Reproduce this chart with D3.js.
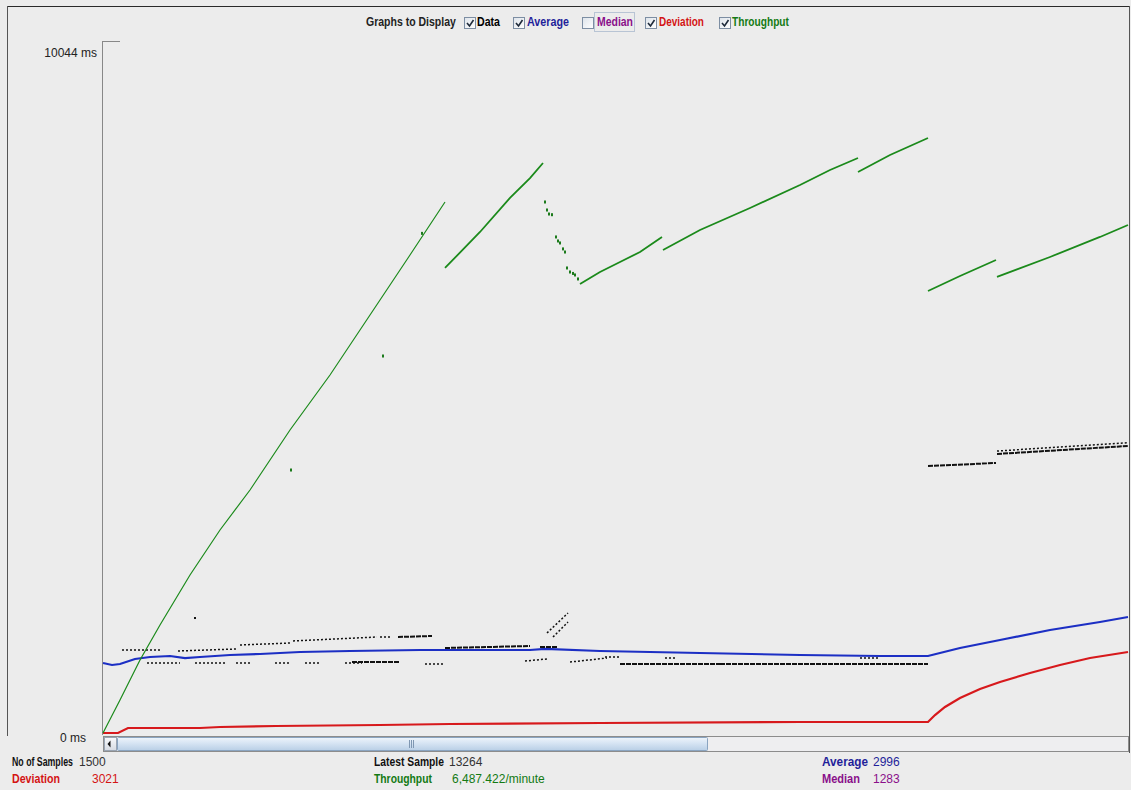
<!DOCTYPE html>
<html>
<head>
<meta charset="utf-8">
<script src="https://d3js.org/d3.v7.min.js"></script>
<style>
  html, body { margin: 0; padding: 0; background: #ececec; }
  svg { display: block; }
  text { font-family: "Liberation Sans", Arial, sans-serif; }
</style>
</head>
<body>
<svg id="chart" width="1131" height="790"></svg>
<script>
// ---- data (sample index, value in ms) ----
const yMax = 10044;
const sampleCount = 1025;

// Running average
const averagePoints = [
  [0, 1042], [9, 1013], [17, 1028], [32, 1100], [47, 1129], [67, 1143], [82, 1114],
  [97, 1129], [127, 1158], [157, 1172], [197, 1201], [247, 1216], [317, 1230],
  [427, 1230], [442, 1245], [497, 1216], [547, 1201], [597, 1187], [697, 1158],
  [777, 1143], [825, 1143], [857, 1259], [897, 1375], [947, 1520], [997, 1635], [1025, 1708]
];

// Standard deviation
const deviationPoints = [
  [0, 29], [15, 29], [25, 101], [97, 101], [117, 116], [173, 130], [277, 145],
  [347, 159], [497, 174], [697, 188], [825, 188], [832, 289], [842, 405], [857, 535],
  [877, 666], [897, 767], [927, 897], [957, 1013], [987, 1114], [1025, 1201]
];

// Throughput, drawn as separate runs
const throughputRuns = [
  [[0, 29], [17, 507], [37, 1085], [57, 1592], [87, 2316], [117, 2967], [147, 3546],
   [187, 4414], [227, 5210], [267, 6079], [307, 6947], [342, 7714]],
  [[342, 6759], [377, 7280], [407, 7772], [427, 8061], [440, 8278]],
  [[477, 6527], [497, 6701], [517, 6846], [537, 6990], [559, 7208]],
  [[560, 7019], [597, 7309], [647, 7627], [697, 7960], [727, 8177], [755, 8351]],
  [[755, 8148], [787, 8394], [825, 8640]],
  [[825, 6426], [857, 6643], [893, 6875]],
  [[894, 6629], [947, 6918], [997, 7208], [1025, 7381]]
];

// Isolated throughput samples
const throughputScatter = [
  [442, 7714], [444, 7598], [446, 7540], [449, 7530], [453, 7208], [455, 7150],
  [457, 7121], [460, 7035], [462, 6990], [464, 6759], [467, 6701], [470, 6680],
  [472, 6658], [475, 6600], [188, 3835], [280, 5485], [319, 7260]
];

// Individual response times, grouped into runs [from, to, valueFrom, valueTo]
const dataDense = [
  [295, 329, 1418, 1433], [249, 297, 1056, 1056], [342, 427, 1259, 1288],
  [437, 454, 1274, 1274], [517, 617, 1028, 1028], [617, 825, 1028, 1028],
  [825, 893, 3893, 3937], [894, 1025, 4067, 4183]
];
const dataSparse = [
  [19, 59, 1230, 1230], [75, 134, 1216, 1245], [137, 189, 1303, 1332],
  [190, 274, 1361, 1418], [277, 289, 1418, 1418], [44, 77, 1042, 1042],
  [92, 122, 1042, 1042], [133, 147, 1042, 1042], [172, 187, 1042, 1042],
  [202, 217, 1042, 1042], [242, 259, 1042, 1042], [322, 342, 1028, 1028],
  [422, 444, 1071, 1100], [444, 465, 1476, 1766], [450, 465, 1418, 1635],
  [467, 504, 1056, 1114], [502, 517, 1129, 1129], [562, 574, 1114, 1114],
  [757, 777, 1114, 1114], [894, 1025, 4110, 4230]
];
const dataOutliers = [[92, 1693]];

// Axis labels and status read-outs
const yTickLabels = ["0 ms", "10044 ms"];
const legendItems = [
  { name: "Data", checked: true, color: "#000000" },
  { name: "Average", checked: true, color: "#1f1f9a" },
  { name: "Median", checked: false, color: "#8a108a" },
  { name: "Deviation", checked: true, color: "#d41414" },
  { name: "Throughput", checked: true, color: "#137a13" }
];
const statusItems = [
  { label: "No of Samples", value: "1500", color: "#111", vcolor: "#333" },
  { label: "Deviation", value: "3021", color: "#d41414", vcolor: "#d41414" },
  { label: "Latest Sample", value: "13264", color: "#111", vcolor: "#333" },
  { label: "Throughput", value: "6,487.422/minute", color: "#137a13", vcolor: "#137a13" },
  { label: "Average", value: "2996", color: "#1f1f9a", vcolor: "#1f1f9a" },
  { label: "Median", value: "1283", color: "#8a108a", vcolor: "#8a108a" }
];

// ---- drawing ----
const svg = d3.select("#chart");
const plot = { left: 103, right: 1128, top: 41, bottom: 735 };

const x = d3.scaleLinear().domain([0, sampleCount]).range([plot.left, plot.right]);
const y = d3.scaleLinear().domain([0, yMax]).range([plot.bottom, plot.top]);

// Bold UI label squeezed horizontally to a given width (condensed look)
function condensedLabel(parent, str, px, py, width, color) {
  const g = parent.append("g");
  const t = g.append("text").attr("x", 0).attr("y", 0).attr("font-size", 12)
    .attr("font-weight", "bold").attr("fill", color).text(str);
  const natural = t.node().getComputedTextLength();
  g.attr("transform", `translate(${px},${py}) scale(${width / natural},1)`);
  return g;
}

const defs = svg.append("defs");
const cbGrad = defs.append("linearGradient").attr("id", "cbGrad").attr("x1", 0).attr("y1", 0).attr("x2", 1).attr("y2", 1);
cbGrad.append("stop").attr("offset", "0%").attr("stop-color", "#dde3ea");
cbGrad.append("stop").attr("offset", "100%").attr("stop-color", "#ffffff");
const thumbGrad = defs.append("linearGradient").attr("id", "thumbGrad").attr("x1", 0).attr("y1", 0).attr("x2", 0).attr("y2", 1);
thumbGrad.append("stop").attr("offset", "0%").attr("stop-color", "#eef4fb");
thumbGrad.append("stop").attr("offset", "45%").attr("stop-color", "#d6e4f3");
thumbGrad.append("stop").attr("offset", "100%").attr("stop-color", "#b9cfe6");
const btnGrad = defs.append("linearGradient").attr("id", "btnGrad").attr("x1", 0).attr("y1", 0).attr("x2", 0).attr("y2", 1);
btnGrad.append("stop").attr("offset", "0%").attr("stop-color", "#f8f9fb");
btnGrad.append("stop").attr("offset", "100%").attr("stop-color", "#d6dbe3");

svg.append("rect").attr("width", 1131).attr("height", 790).attr("fill", "#ececec");

// panel borders
svg.append("line").attr("x1", 7).attr("x2", 1129).attr("y1", 6.5).attr("y2", 6.5).attr("stroke", "#2a2a2a");
svg.append("line").attr("x1", 7.5).attr("x2", 7.5).attr("y1", 6).attr("y2", 736).attr("stroke", "#555");
svg.append("line").attr("x1", 1129.5).attr("x2", 1129.5).attr("y1", 6).attr("y2", 753).attr("stroke", "#555");

// legend row
const legend = svg.append("g");
condensedLabel(legend, "Graphs to Display", 366, 26, 90, "#222");
const cbX = [464, 513, 582, 645, 719];
const lbX = [477, 527, 597, 659, 732];
const lbW = [23, 42, 36, 45, 57];
legendItems.forEach((it, i) => {
  const g = legend.append("g");
  if (it.name === "Median") {
    g.append("rect").attr("x", 594.5).attr("y", 12.5).attr("width", 40).attr("height", 19)
      .attr("fill", "none").attr("stroke", "#b8c4d4");
  }
  g.append("rect").attr("x", cbX[i] + 0.5).attr("y", 17.5).attr("width", 11).attr("height", 11)
    .attr("fill", "url(#cbGrad)").attr("stroke", "#7d8ea3");
  if (it.checked) {
    g.append("path").attr("d", `M${cbX[i] + 3},${23} L${cbX[i] + 5.5},${26} L${cbX[i] + 9.5},${20}`)
      .attr("fill", "none").attr("stroke", "#1e2a3a").attr("stroke-width", 1.6);
  }
  condensedLabel(g, it.name, lbX[i], 26, lbW[i], it.color);
});

// y labels and axis line
svg.append("text").attr("x", 97).attr("y", 57).attr("font-size", 12).attr("text-anchor", "end")
  .attr("fill", "#222").text(yTickLabels[1]);
svg.append("text").attr("x", 86).attr("y", 742).attr("font-size", 12).attr("text-anchor", "end")
  .attr("fill", "#222").text(yTickLabels[0]);
svg.append("line").attr("x1", 102.5).attr("x2", 102.5).attr("y1", plot.top).attr("y2", plot.bottom)
  .attr("stroke", "#888");
svg.append("line").attr("x1", 102).attr("x2", 120).attr("y1", plot.top + 0.5).attr("y2", plot.top + 0.5)
  .attr("stroke", "#888");

const line = d3.line().x(d => x(d[0])).y(d => y(d[1]));
const marks = svg.append("g");

// deviation and average
marks.append("path").datum(deviationPoints).attr("d", line)
  .attr("fill", "none").attr("stroke", "#d7191c").attr("stroke-width", 2.2);
marks.append("path").datum(averagePoints).attr("d", line)
  .attr("fill", "none").attr("stroke", "#1c2fc4").attr("stroke-width", 2.2);

// response-time samples
marks.selectAll(".dense").data(dataDense).join("line")
  .attr("x1", d => x(d[0])).attr("x2", d => x(d[1]))
  .attr("y1", d => y(d[2])).attr("y2", d => y(d[3]))
  .attr("stroke", "#111").attr("stroke-width", 2).attr("stroke-dasharray", "5,1");
marks.selectAll(".sparse").data(dataSparse).join("line")
  .attr("x1", d => x(d[0])).attr("x2", d => x(d[1]))
  .attr("y1", d => y(d[2])).attr("y2", d => y(d[3]))
  .attr("stroke", "#111").attr("stroke-width", 1.5).attr("stroke-dasharray", "2,2");
marks.selectAll(".outlier").data(dataOutliers).join("rect")
  .attr("x", d => x(d[0]) - 1).attr("y", d => y(d[1]) - 1).attr("width", 2).attr("height", 2).attr("fill", "#111");

// throughput
throughputRuns.forEach((run, i) => {
  marks.append("path").datum(run).attr("d", line).attr("fill", "none")
    .attr("stroke", "#1b8a1b").attr("stroke-width", i === 0 ? 1.2 : 1.8);
});
marks.selectAll(".tp").data(throughputScatter).join("rect")
  .attr("x", d => x(d[0]) - 1).attr("y", d => y(d[1]) - 1.5).attr("width", 2).attr("height", 3)
  .attr("fill", "#1b7a1b");

// horizontal scrollbar
const sb = svg.append("g");
sb.append("rect").attr("x", 103.5).attr("y", 736.5).attr("width", 1025).attr("height", 15)
  .attr("fill", "#eeeef0").attr("stroke", "#8c8c8c");
sb.append("rect").attr("x", 104.5).attr("y", 737.5).attr("width", 12).attr("height", 13)
  .attr("fill", "url(#btnGrad)").attr("stroke", "#9aa5b3");
sb.append("path").attr("d", "M107.5,744 L110.5,740.5 L110.5,747.5 Z").attr("fill", "#111");
sb.append("rect").attr("x", 117.5).attr("y", 737.5).attr("width", 590).attr("height", 13)
  .attr("rx", 1).attr("fill", "url(#thumbGrad)").attr("stroke", "#8aa4c0");
[409.5, 411.5, 413.5].forEach(gx => {
  sb.append("line").attr("x1", gx).attr("x2", gx).attr("y1", 740).attr("y2", 748).attr("stroke", "#7f97b2");
});

// status read-outs
const statusPos = [
  { x: 12, y: 766, vx: 79, lw: 61 }, { x: 12, y: 783, vx: 92, lw: 48 },
  { x: 374, y: 766, vx: 449, lw: 70 }, { x: 374, y: 783, vx: 452, lw: 58 },
  { x: 822, y: 766, vx: 873, lw: 46 }, { x: 822, y: 783, vx: 873, lw: 38 }
];
statusItems.forEach((s, i) => {
  const p = statusPos[i];
  condensedLabel(svg, s.label, p.x, p.y, p.lw, s.color);
  svg.append("text").attr("x", p.vx).attr("y", p.y).attr("font-size", 12)
    .attr("fill", s.vcolor).text(s.value);
});
</script>
</body>
</html>
